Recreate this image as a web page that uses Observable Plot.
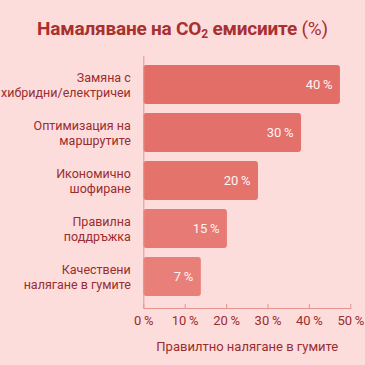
<!DOCTYPE html>
<html>
<head>
<meta charset="utf-8">
<script src="https://cdn.jsdelivr.net/npm/d3@7"></script>
<script src="https://cdn.jsdelivr.net/npm/@observablehq/plot@0.6"></script>
<style>
  html, body { margin: 0; padding: 0; background: #fddcdc; }
  body { width: 365px; height: 365px; overflow: hidden; font-family: Roboto, "Liberation Sans", sans-serif; }
  #title { height: 50px; box-sizing: border-box; padding-top: 17px; text-align: center; color: #a8302f; font-size: 19px; font-weight: 700; letter-spacing: -0.2px; }
  #title .light { font-weight: 400; }
  #title sub { font-size: 12px; vertical-align: -3px; line-height: 0; }
  #chart svg { display: block; background: transparent; }
</style>
</head>
<body>
<div id="title">Намаляване на CO<sub>2</sub> емисиите <span class="light">(%)</span></div>
<div id="chart"></div>
<script>
const categories = [
  "Замяна с\nхибридни/електричеи",
  "Оптимизация на\nмаршрутите",
  "Икономично\nшофиране",
  "Правилна\nподдръжка",
  "Качествени\nналягане в гумите"
];
// bar lengths as drawn against the x axis
const barLengths = [47.5, 38.1, 27.7, 20.2, 13.9];
// value labels printed on the bars
const valueLabels = ["40", "30", "20", "15", "7"];
const barColors = ["#e36e68", "#e3706a", "#e4736c", "#e77a74", "#e97f79"];
const xTicks = [0, 10, 20, 30, 40, 50];
const xLabel = "Правилтно налягане в гумите";

const data = categories.map((c, i) => ({cat: c, len: barLengths[i], label: valueLabels[i] + "\u2009%", color: barColors[i]}));

const axisColor = "#e3948e";
const textColor = "#9a2d2d";

const chart = Plot.plot({
  width: 365,
  height: 315,
  marginTop: 6,
  marginBottom: 57,
  marginLeft: 143.3,
  marginRight: 14.7,
  style: {background: "transparent", fontFamily: "Roboto, 'Liberation Sans', sans-serif"},
  x: {domain: [0, 50], ticks: xTicks, label: null},
  y: {domain: categories, range: [10.5, 250.5], paddingInner: 0.1875, paddingOuter: 0.09375, axis: null, label: null},
  marks: [
    Plot.barX(data, {y: "cat", x: "len", fill: d => d.color, rx: 3}),
    Plot.text(data, {y: "cat", x: "len", text: "label", textAnchor: "end", dx: -8, fill: "#fff3f2", fontSize: 13}),
    Plot.text(data, {y: "cat", x: 0, text: "cat", textAnchor: "end", dx: -13, fill: textColor, fontSize: 12.5, lineHeight: 1.2}),
    Plot.ruleX([0], {stroke: axisColor, strokeWidth: 1}),
    Plot.frame({anchor: "bottom", stroke: axisColor}),
    Plot.axisX({ticks: xTicks, tickSize: -4, tickFormat: () => "", stroke: axisColor, label: null}),
    Plot.axisX({ticks: xTicks, tickSize: 0, tickPadding: 7, tickFormat: d => d + "\u2009%", fill: textColor, fontSize: 13, label: null}),
    Plot.text([xLabel], {frameAnchor: "bottom", x: 25, text: d => d, dy: 42, fill: textColor, fontSize: 13})
  ]
});
document.getElementById("chart").appendChild(chart);
</script>
</body>
</html>
